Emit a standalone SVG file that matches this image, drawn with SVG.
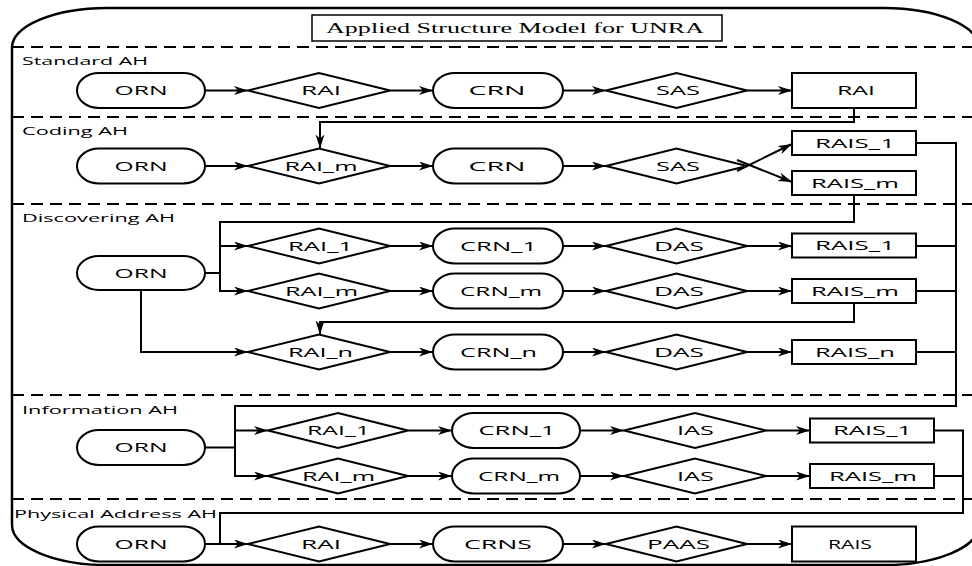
<svg xmlns="http://www.w3.org/2000/svg" width="972" height="566" viewBox="0 0 972 566">
<defs>
<marker id="ah" markerUnits="userSpaceOnUse" markerWidth="15" markerHeight="10" refX="14" refY="4.5" orient="auto">
<path d="M0,0 L14,4.5 L0,9 L4,4.5 z" fill="#000"/>
</marker>
<style>
.s{fill:#fff;stroke:#000;stroke-width:2}
.c{fill:none;stroke:#000;stroke-width:2}
.a{marker-end:url(#ah)}
.d{fill:none;stroke:#000;stroke-width:2;stroke-dasharray:12,7}
.t{font-family:"Open Sans","DejaVu Sans",sans-serif;font-size:13px;text-anchor:middle;fill:#000}
.l{font-family:"Open Sans","DejaVu Sans",sans-serif;font-size:11.5px;fill:#000}
.ti{font-family:"Liberation Serif",serif;font-size:15px;text-anchor:middle;fill:#000}
</style>
</defs>
<rect x="0" y="0" width="972" height="566" fill="#fff"/>
<g id="frame">
<rect x="12" y="8" width="967" height="557" rx="95" ry="40" fill="none" stroke="#000" stroke-width="2.5"/>
<path class="d" d="M12,47H979 M12,117H979 M12,204H979 M12,395H979 M12,499H979"/>
</g>
<g id="title">
<rect x="312" y="15" width="410" height="26" fill="#fff" stroke="#000" stroke-width="1.5"/>
<text class="ti" x="515" y="33" textLength="378" lengthAdjust="spacingAndGlyphs">Applied Structure Model for UNRA</text>
</g>
<g id="labels">
<text class="l" x="22" y="65" textLength="126" lengthAdjust="spacingAndGlyphs">Standard AH</text>
<text class="l" x="22" y="135" textLength="106" lengthAdjust="spacingAndGlyphs">Coding AH</text>
<text class="l" x="22" y="222" textLength="153" lengthAdjust="spacingAndGlyphs">Discovering AH</text>
<text class="l" x="22" y="414" textLength="156" lengthAdjust="spacingAndGlyphs">Information AH</text>
<text class="l" x="14" y="518" textLength="203" lengthAdjust="spacingAndGlyphs">Physical Address AH</text>
</g>
<g id="connectors">
<path class="c a" d="M205,90.5H248"/>
<path class="c a" d="M390,90.5H433"/>
<path class="c a" d="M563,90.5H606"/>
<path class="c a" d="M747,90.5H792"/>
<path class="c a" d="M854,108V122H320V148.5"/>
<path class="c a" d="M205,166H248"/>
<path class="c a" d="M390,166H433"/>
<path class="c a" d="M563,166H606"/>
<path class="c a" d="M737,171L792,144"/>
<path class="c a" d="M737,160L792,182"/>
<path class="c" d="M916,143H956V406H235V430.5"/>
<path class="c" d="M916,246H956 M916,291H956 M916,352H956 M205,447.5H235 M205,273H220"/>
<path class="c a" d="M235,430.5H268"/>
<path class="c a" d="M235,430.5V476H268"/>
<path class="c a" d="M854,195V222H220V246H248"/>
<path class="c a" d="M220,246V291H248"/>
<path class="c a" d="M141,290V352H248"/>
<path class="c a" d="M390,246H433"/>
<path class="c a" d="M563,246H606"/>
<path class="c a" d="M747,246H792"/>
<path class="c a" d="M390,291H433"/>
<path class="c a" d="M563,291H606"/>
<path class="c a" d="M747,291H792"/>
<path class="c a" d="M390,352H433"/>
<path class="c a" d="M563,352H606"/>
<path class="c a" d="M747,352H792"/>
<path class="c a" d="M854,303V322H320V334.5"/>
<path class="c a" d="M408,430.5H452"/>
<path class="c a" d="M580,430.5H624"/>
<path class="c a" d="M766,430.5H810"/>
<path class="c a" d="M408,476H452"/>
<path class="c a" d="M580,476H624"/>
<path class="c a" d="M766,476H810"/>
<path class="c" d="M934,430.5H963V513H220V544 M934,476H963"/>
<path class="c a" d="M205,544H248"/>
<path class="c a" d="M390,544H433"/>
<path class="c a" d="M563,544H606"/>
<path class="c a" d="M747,544H792"/>
</g>
<!-- Standard AH -->
<g id="s_orn"><rect class="s" x="77" y="73" width="128" height="35" rx="22" ry="17.5"/><text class="t" x="141" y="95" textLength="53" lengthAdjust="spacingAndGlyphs">ORN</text></g>
<g id="s_rai"><polygon class="s" points="248,90.5 319,73 390,90.5 319,108"/><text class="t" x="321" y="95" textLength="40" lengthAdjust="spacingAndGlyphs">RAI</text></g>
<g id="s_crn"><rect class="s" x="433" y="73" width="130" height="35" rx="22" ry="17.5"/><text class="t" x="497" y="95" textLength="57" lengthAdjust="spacingAndGlyphs">CRN</text></g>
<g id="s_sas"><polygon class="s" points="606,90.5 676.5,73 747,90.5 676.5,108"/><text class="t" x="678" y="95" textLength="44" lengthAdjust="spacingAndGlyphs">SAS</text></g>
<g id="s_rai_out"><rect class="s" x="792" y="73" width="124" height="35"/><text class="t" x="856" y="95" textLength="38" lengthAdjust="spacingAndGlyphs">RAI</text></g>
<!-- Coding AH -->
<g id="c_orn"><rect class="s" x="77" y="148.5" width="128" height="35" rx="22" ry="17.5"/><text class="t" x="141" y="170.5" textLength="53" lengthAdjust="spacingAndGlyphs">ORN</text></g>
<g id="c_rai"><polygon class="s" points="248,166 319,148.5 390,166 319,183.5"/><text class="t" x="321" y="170.5" textLength="73" lengthAdjust="spacingAndGlyphs">RAI_m</text></g>
<g id="c_crn"><rect class="s" x="433" y="148.5" width="130" height="35" rx="22" ry="17.5"/><text class="t" x="497" y="170.5" textLength="57" lengthAdjust="spacingAndGlyphs">CRN</text></g>
<g id="c_sas"><polygon class="s" points="606,166 676.5,148.5 747,166 676.5,183.5" fill-opacity="0"/><text class="t" x="678" y="170.5" textLength="44" lengthAdjust="spacingAndGlyphs">SAS</text></g>
<g id="c_rais1"><rect class="s" x="792" y="131" width="124" height="24"/><text class="t" x="855" y="147.5" textLength="80" lengthAdjust="spacingAndGlyphs">RAIS_1</text></g>
<g id="c_raism"><rect class="s" x="792" y="171" width="124" height="24"/><text class="t" x="855" y="187.5" textLength="88" lengthAdjust="spacingAndGlyphs">RAIS_m</text></g>
<!-- Discovering AH -->
<g id="d_orn"><rect class="s" x="77" y="256" width="128" height="34" rx="22" ry="17"/><text class="t" x="141" y="277.5" textLength="53" lengthAdjust="spacingAndGlyphs">ORN</text></g>
<g id="d_rai1"><polygon class="s" points="248,246 319,228.5 390,246 319,263.5"/><text class="t" x="320.5" y="250.5" textLength="65" lengthAdjust="spacingAndGlyphs">RAI_1</text></g>
<g id="d_crn1"><rect class="s" x="433" y="228.5" width="130" height="35" rx="22" ry="17.5"/><text class="t" x="498.5" y="250.5" textLength="77" lengthAdjust="spacingAndGlyphs">CRN_1</text></g>
<g id="d_das1"><polygon class="s" points="606,246 676.5,228.5 747,246 676.5,263.5"/><text class="t" x="679" y="250.5" textLength="50" lengthAdjust="spacingAndGlyphs">DAS</text></g>
<g id="d_rais1"><rect class="s" x="792" y="233.5" width="124" height="24"/><text class="t" x="855" y="250" textLength="80" lengthAdjust="spacingAndGlyphs">RAIS_1</text></g>
<g id="d_raim"><polygon class="s" points="248,291 319,273.5 390,291 319,308.5"/><text class="t" x="321.5" y="295.5" textLength="73" lengthAdjust="spacingAndGlyphs">RAI_m</text></g>
<g id="d_crnm"><rect class="s" x="433" y="273.5" width="130" height="35" rx="22" ry="17.5"/><text class="t" x="501" y="295.5" textLength="82" lengthAdjust="spacingAndGlyphs">CRN_m</text></g>
<g id="d_dasm"><polygon class="s" points="606,291 676.5,273.5 747,291 676.5,308.5"/><text class="t" x="679" y="295.5" textLength="50" lengthAdjust="spacingAndGlyphs">DAS</text></g>
<g id="d_raism"><rect class="s" x="792" y="279" width="124" height="24"/><text class="t" x="855" y="295.5" textLength="88" lengthAdjust="spacingAndGlyphs">RAIS_m</text></g>
<g id="d_rain"><polygon class="s" points="248,352 319,334.5 390,352 319,369.5"/><text class="t" x="320.5" y="356.5" textLength="65" lengthAdjust="spacingAndGlyphs">RAI_n</text></g>
<g id="d_crnn"><rect class="s" x="433" y="334.5" width="130" height="35" rx="22" ry="17.5"/><text class="t" x="498.5" y="356.5" textLength="77" lengthAdjust="spacingAndGlyphs">CRN_n</text></g>
<g id="d_dasn"><polygon class="s" points="606,352 676.5,334.5 747,352 676.5,369.5"/><text class="t" x="679" y="356.5" textLength="50" lengthAdjust="spacingAndGlyphs">DAS</text></g>
<g id="d_raisn"><rect class="s" x="792" y="340" width="124" height="24"/><text class="t" x="855" y="356.5" textLength="80" lengthAdjust="spacingAndGlyphs">RAIS_n</text></g>
<!-- Information AH -->
<g id="i_orn"><rect class="s" x="77" y="430" width="128" height="35" rx="22" ry="17.5"/><text class="t" x="141" y="452" textLength="53" lengthAdjust="spacingAndGlyphs">ORN</text></g>
<g id="i_rai1"><polygon class="s" points="268,430.5 338,413 408,430.5 338,448"/><text class="t" x="338.5" y="435" textLength="63" lengthAdjust="spacingAndGlyphs">RAI_1</text></g>
<g id="i_crn1"><rect class="s" x="452" y="413" width="128" height="35" rx="22" ry="17.5"/><text class="t" x="517" y="435" textLength="77" lengthAdjust="spacingAndGlyphs">CRN_1</text></g>
<g id="i_ias1"><polygon class="s" points="624,430.5 695,413 766,430.5 695,448"/><text class="t" x="695.5" y="435" textLength="37" lengthAdjust="spacingAndGlyphs">IAS</text></g>
<g id="i_rais1"><rect class="s" x="810" y="418.5" width="124" height="24"/><text class="t" x="872.5" y="435" textLength="79" lengthAdjust="spacingAndGlyphs">RAIS_1</text></g>
<g id="i_raim"><polygon class="s" points="268,476 338,458.5 408,476 338,493.5"/><text class="t" x="338.5" y="480.5" textLength="73" lengthAdjust="spacingAndGlyphs">RAI_m</text></g>
<g id="i_crnm"><rect class="s" x="452" y="458.5" width="128" height="35" rx="22" ry="17.5"/><text class="t" x="519" y="480.5" textLength="82" lengthAdjust="spacingAndGlyphs">CRN_m</text></g>
<g id="i_iasm"><polygon class="s" points="624,476 695,458.5 766,476 695,493.5"/><text class="t" x="695.5" y="480.5" textLength="37" lengthAdjust="spacingAndGlyphs">IAS</text></g>
<g id="i_raism"><rect class="s" x="810" y="464" width="124" height="24"/><text class="t" x="873" y="480.5" textLength="88" lengthAdjust="spacingAndGlyphs">RAIS_m</text></g>
<!-- Physical Address AH -->
<g id="p_orn"><rect class="s" x="77" y="526.5" width="128" height="35" rx="22" ry="17.5"/><text class="t" x="141" y="548.5" textLength="53" lengthAdjust="spacingAndGlyphs">ORN</text></g>
<g id="p_rai"><polygon class="s" points="248,544 319,526.5 390,544 319,561.5"/><text class="t" x="321" y="548.5" textLength="40" lengthAdjust="spacingAndGlyphs">RAI</text></g>
<g id="p_crns"><rect class="s" x="433" y="526.5" width="130" height="35" rx="22" ry="17.5"/><text class="t" x="498" y="548.5" textLength="68" lengthAdjust="spacingAndGlyphs">CRNS</text></g>
<g id="p_paas"><polygon class="s" points="606,544 676.5,526.5 747,544 676.5,561.5"/><text class="t" x="678.5" y="548.5" textLength="63" lengthAdjust="spacingAndGlyphs">PAAS</text></g>
<g id="p_rais"><rect class="s" x="792" y="526.5" width="124" height="35"/><text class="t" x="850" y="548.5" textLength="44" lengthAdjust="spacingAndGlyphs">RAIS</text></g>
</svg>
